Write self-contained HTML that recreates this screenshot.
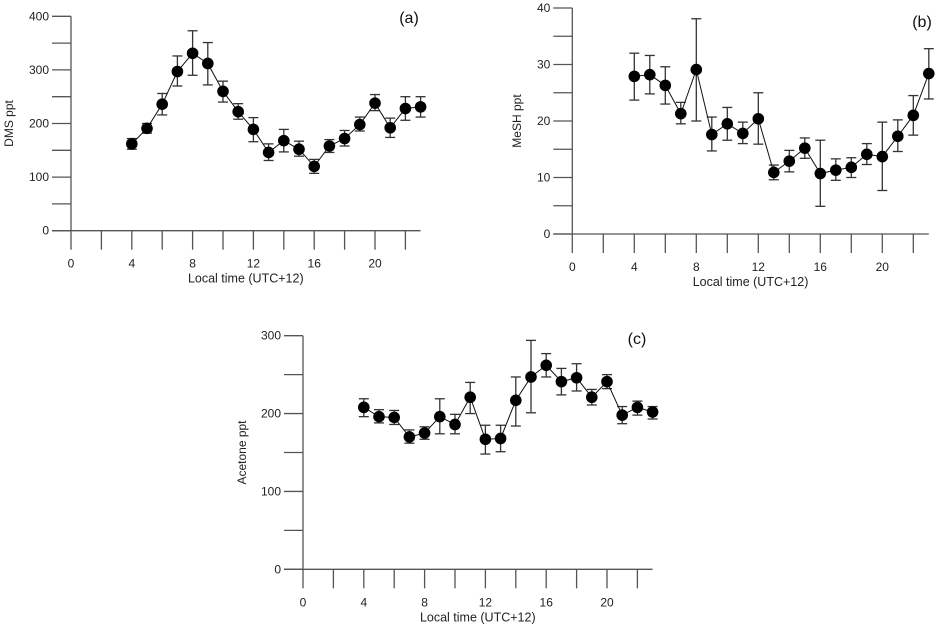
<!DOCTYPE html>
<html><head><meta charset="utf-8"><style>
body{margin:0;background:#fff;}
svg{display:block;font-family:"Liberation Sans",Arial,sans-serif;}
</style></head><body>
<svg id="chart" width="951" height="629" viewBox="0 0 951 629"></svg>
<script>
const hours=[4,5,6,7,8,9,10,11,12,13,14,15,16,17,18,19,20,21,22,23];
const dmsVals=[162,191,236,297,331,312,260,222,189,146,168,152,120,158,172,198,238,192,228,231];
const dmsLo=[152,182,216,270,290,272,240,208,166,131,147,139,107,146,158,186,224,174,206,212];
const dmsHi=[172,200,256,326,373,351,279,237,211,162,189,167,133,170,187,212,254,210,250,250];
const meshVals=[27.9,28.2,26.3,21.3,29.1,17.6,19.5,17.8,20.4,10.9,12.9,15.2,10.7,11.3,11.8,14.1,13.7,17.3,21,28.4];
const meshLo=[23.7,24.8,23,19.5,20,14.7,16.6,16,15.9,9.6,11,13.4,4.9,9.5,10,12.3,7.7,14.6,17.5,23.9];
const meshHi=[32,31.6,29.6,23.3,38.1,20.7,22.4,19.8,25,12.2,14.8,17,16.6,13.3,13.5,16,19.8,20.2,24.5,32.8];
const acVals=[208,196,195,170,175,196,186,221,167,168,217,247,262,241,246,221,241,198,208,202];
const acLo=[196,188,186,162,167,174,174,200,148,151,184,201,247,224,229,211,232,187,198,193];
const acHi=[219,205,204,179,183,219,199,240,185,185,247,294,277,258,264,231,250,209,216,209];
const dmsTicks=[0,100,200,300,400];
const meshTicks=[0,10,20,30,40];
const acTicks=[0,100,200,300];
const xTickLabels=[0,4,8,12,16,20];

const NS="http://www.w3.org/2000/svg";
const svg=document.getElementById('chart');
function mk(tag,attrs,parent,text){const e=document.createElementNS(NS,tag);for(const k in attrs)e.setAttribute(k,attrs[k]);if(text!==undefined)e.textContent=text;(parent||svg).appendChild(e);return e;}

function panel(cfg,xs,vals,lo,hi,yticks){
  const g=mk('g',{});
  
  
  const xS=h=>cfg.x0+h*cfg.pxh;
  const yS=v=>cfg.y0-(v-0)/cfg.ymax*(cfg.y0-cfg.yTop);
  const ax='#555';
  const ya=mk('line',{x1:cfg.x0,y1:cfg.yTop,x2:cfg.x0,y2:cfg.y0,stroke:ax,'stroke-width':1.3},g);
  
  const xa=mk('line',{x1:cfg.x0-19,y1:cfg.y0,x2:xS(23),y2:cfg.y0,stroke:ax,'stroke-width':1.3},g);
  
  const yStep=yticks[1]-yticks[0];
  for(let v=0;v<=cfg.ymax+1e-9;v+=yStep/2){
    mk('line',{x1:cfg.x0-19,y1:yS(v),x2:cfg.x0,y2:yS(v),stroke:ax,'stroke-width':1.3},g);
  }
  yticks.forEach(v=>{
    const t=mk('text',{x:cfg.x0-22,y:yS(v)+4,'text-anchor':'end','font-size':12,fill:'#222'},g,v);
    
  });
  for(let h=0;h<=22;h+=2){
    mk('line',{x1:xS(h),y1:cfg.y0,x2:xS(h),y2:cfg.y0+19,stroke:ax,'stroke-width':1.3},g);
  }
  xTickLabels.forEach(h=>{
    const t=mk('text',{x:xS(h),y:cfg.y0+37,'text-anchor':'middle','font-size':12,fill:'#222'},g,h);
    
  });
  const xl=mk('text',{x:xS(11.5),y:cfg.y0+52,'text-anchor':'middle','font-size':12.5,fill:'#222'},g,'Local time (UTC+12)');
  
  const yc=(cfg.yTop+cfg.y0)/2;
  const yl=mk('text',{x:cfg.ylx,y:yc,'text-anchor':'middle','font-size':12,fill:'#222',transform:`rotate(-90 ${cfg.ylx} ${yc})`},g,cfg.ylabel);
  
  const pl=mk('text',{x:cfg.lx,y:cfg.ly,'text-anchor':'middle','font-size':16,fill:'#111'},g,cfg.tag);
  
  xs.forEach((h,i)=>{
    const x=xS(h);
    const eb=mk('g',{stroke:'#333','stroke-width':1.3},g);
    
    mk('line',{x1:x,y1:yS(lo[i]),x2:x,y2:yS(hi[i])},eb);
    mk('line',{x1:x-5,y1:yS(lo[i]),x2:x+5,y2:yS(lo[i])},eb);
    mk('line',{x1:x-5,y1:yS(hi[i]),x2:x+5,y2:yS(hi[i])},eb);
  });
  const pts=xs.map((h,i)=>xS(h)+','+yS(vals[i])).join(' ');
  const ln=mk('polyline',{points:pts,fill:'none',stroke:'#111','stroke-width':1},g);
  
  xs.forEach((h,i)=>{
    const c=mk('circle',{cx:xS(h),cy:yS(vals[i]),r:5.8,fill:'#000'},g);
    
  });
}
panel({name:'panel-a-dms',x0:71,y0:230.7,yTop:16.3,ymax:400,pxh:15.2,ylx:13,ylabel:'DMS ppt',tag:'(a)',lx:409,ly:23},hours,dmsVals,dmsLo,dmsHi,dmsTicks);
panel({name:'panel-b-mesh',x0:572.3,y0:234,yTop:8,ymax:40,pxh:15.5,ylx:521,ylabel:'MeSH ppt',tag:'(b)',lx:922,ly:27},hours,meshVals,meshLo,meshHi,meshTicks);
panel({name:'panel-c-acetone',x0:303,y0:569.3,yTop:335.7,ymax:300,pxh:15.2,ylx:246,ylabel:'Acetone ppt',tag:'(c)',lx:637,ly:344},hours,acVals,acLo,acHi,acTicks);
</script>
</body></html>
